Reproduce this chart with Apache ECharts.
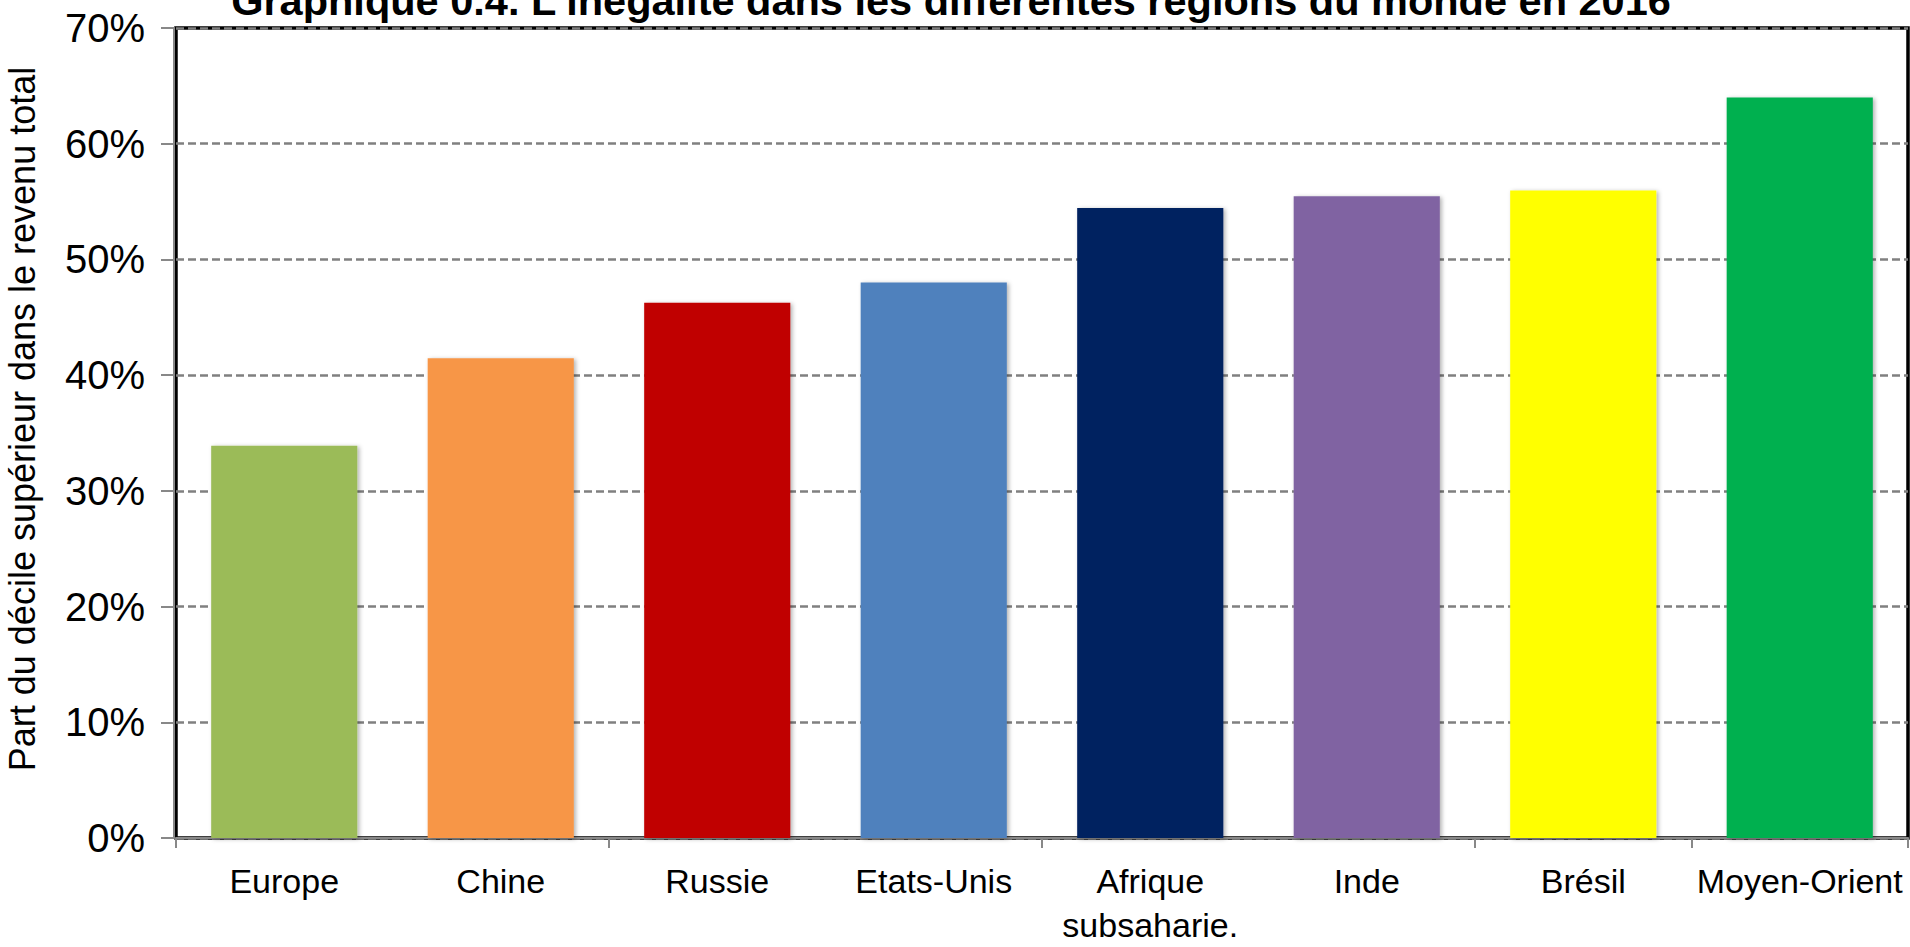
<!DOCTYPE html>
<html>
<head>
<meta charset="utf-8">
<script src="https://cdn.jsdelivr.net/npm/echarts@6/dist/echarts.min.js"></script>
<style>
html,body{margin:0;padding:0;background:#fff;}
#chart{width:1910px;height:947px;}
</style>
</head>
<body>
<div id="chart"></div>
<script>
const titleText = "Graphique 0.4. L'inégalité dans les différentes régions du monde en 2016";
const yAxisName = "Part du décile supérieur dans le revenu total";
const categories = ["Europe", "Chine", "Russie", "Etats-Unis", "Afrique\nsubsaharie.", "Inde", "Brésil", "Moyen-Orient"];
const values = [33.9, 41.45, 46.25, 48.0, 54.45, 55.45, 55.95, 64.0];
const barColors = ["#9BBB59", "#F79646", "#C00000", "#4F81BD", "#002060", "#8064A2", "#FFFF00", "#00B050"];
const yTicks = { min: 0, max: 70, interval: 10 };

const FONT = "'Liberation Sans', Arial, sans-serif";
const chart = echarts.init(document.getElementById('chart'), null, { renderer: 'svg' });

chart.setOption({
  animation: false,
  backgroundColor: '#ffffff',
  grid: {
    left: 176, right: 2, top: 28, bottom: 97,
    show: true, borderColor: '#000000', borderWidth: 3.5, backgroundColor: 'transparent'
  },
  graphic: [
    {
      type: 'text', x: 951, y: 0, z: 10,
      style: { text: titleText, font: "bold 41.5px " + FONT, fill: '#000', align: 'center', verticalAlign: 'middle' }
    },
    {
      type: 'text', x: 22, y: 419, rotation: Math.PI / 2, z: 10,
      style: { text: yAxisName, font: "36px " + FONT, fill: '#000', align: 'center', verticalAlign: 'middle' }
    }
  ],
  xAxis: {
    type: 'category',
    data: categories,
    offset: 2,
    axisLine: { show: true, lineStyle: { color: '#888888', width: 2 } },
    axisTick: { show: true, interval: 1, length: 10, lineStyle: { color: '#888888', width: 2 } },
    axisLabel: { interval: 0, color: '#000', fontFamily: FONT, fontSize: 34, lineHeight: 44, margin: 19 },
    splitLine: { show: false }
  },
  yAxis: {
    type: 'value',
    min: yTicks.min, max: yTicks.max, interval: yTicks.interval,
    offset: 2,
    axisLine: { show: true, lineStyle: { color: '#888888', width: 2 } },
    axisTick: { show: true, length: 13, lineStyle: { color: '#888888', width: 2 } },
    axisLabel: { color: '#000', fontFamily: FONT, fontSize: 40, margin: 29, formatter: '{value}%' },
    splitLine: { show: true, lineStyle: { color: '#808080', width: 2.5, type: [8, 4] } }
  },
  series: [{
    type: 'bar',
    barWidth: '67.5%',
    data: values.map((v, i) => ({
      value: v,
      itemStyle: {
        color: barColors[i],
        shadowColor: 'rgba(0,0,0,0.3)', shadowBlur: 4, shadowOffsetX: 2, shadowOffsetY: 1
      }
    }))
  }]
});
</script>
</body>
</html>
